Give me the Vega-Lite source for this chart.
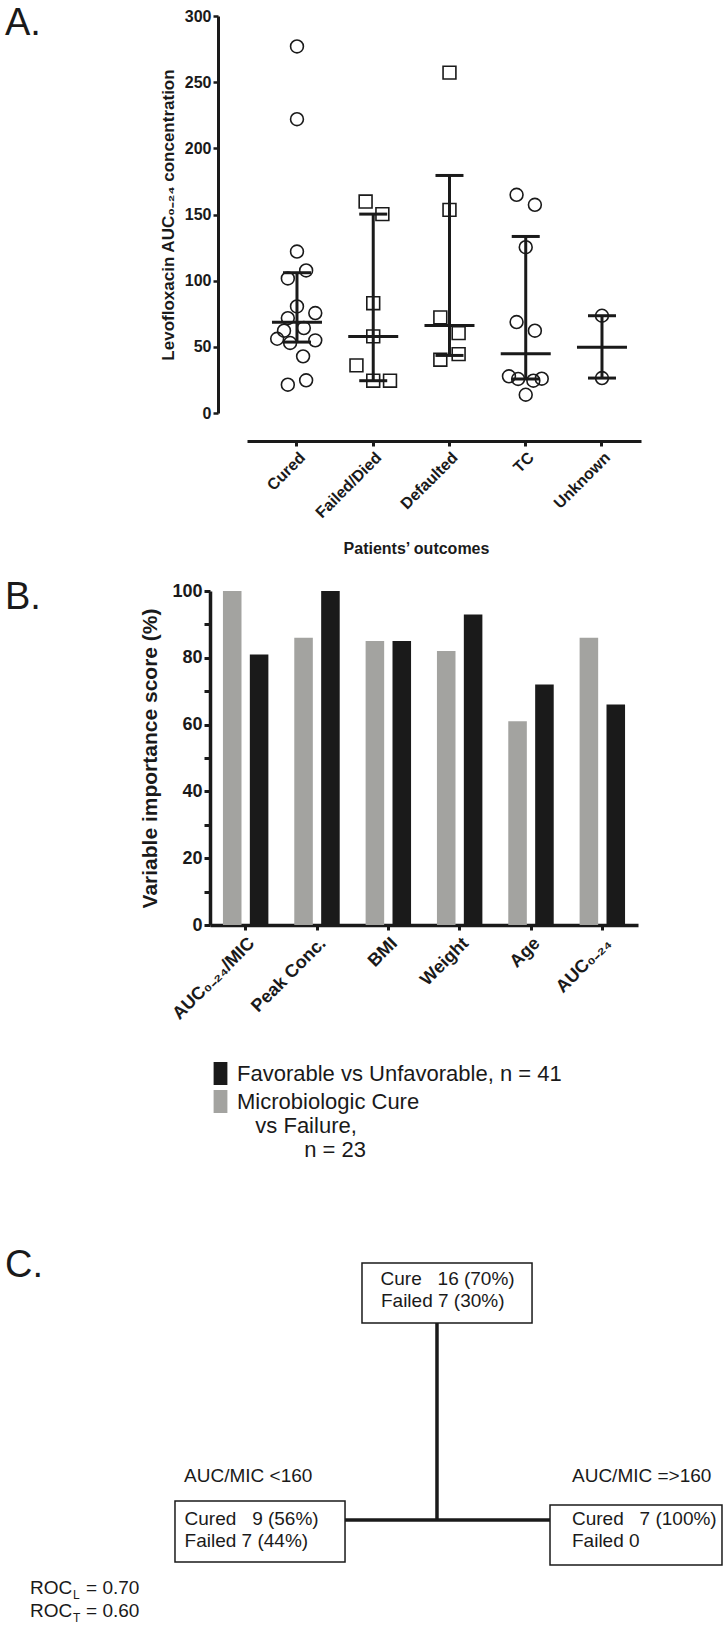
{
  "$schema": "https://vega.github.io/schema/vega-lite/v6.json",
  "background": "white",
  "padding": 5,
  "config": {
    "font": "Liberation Sans",
    "view": {"stroke": null},
    "axis": {"grid": false, "domainColor": "#1a1a1a", "tickColor": "#1a1a1a", "labelColor": "#1a1a1a", "titleColor": "#1a1a1a"},
    "title": {"fontWeight": "normal", "fontSize": 38, "anchor": "start", "frame": "group", "offset": 0, "color": "#1a1a1a"}
  },
  "spacing": 22,
  "resolve": {"scale": {"color": "independent"}, "legend": {"color": "independent"}},
  "vconcat": [
    {
      "width": 431,
      "height": 397,
      "title": {"text": "A.", "dx": -205, "dy": 39},
      "layer": [
        {
          "data": {"values": [
            {"outcome": "Cured", "value": 277, "jit": 0},
            {"outcome": "Cured", "value": 222, "jit": 0},
            {"outcome": "Cured", "value": 122, "jit": 0},
            {"outcome": "Cured", "value": 107.7, "jit": 0.12},
            {"outcome": "Cured", "value": 101.7, "jit": -0.12},
            {"outcome": "Cured", "value": 80.5, "jit": 0},
            {"outcome": "Cured", "value": 75.5, "jit": 0.24},
            {"outcome": "Cured", "value": 71.7, "jit": -0.12},
            {"outcome": "Cured", "value": 64.2, "jit": 0.09},
            {"outcome": "Cured", "value": 62.2, "jit": -0.17},
            {"outcome": "Cured", "value": 56.1, "jit": -0.26},
            {"outcome": "Cured", "value": 52.9, "jit": -0.09},
            {"outcome": "Cured", "value": 54.9, "jit": 0.24},
            {"outcome": "Cured", "value": 42.8, "jit": 0.08},
            {"outcome": "Cured", "value": 21.4, "jit": -0.12},
            {"outcome": "Cured", "value": 24.7, "jit": 0.12},
            {"outcome": "Failed/Died", "value": 159.8, "jit": -0.1},
            {"outcome": "Failed/Died", "value": 150.3, "jit": 0.12},
            {"outcome": "Failed/Died", "value": 83, "jit": 0},
            {"outcome": "Failed/Died", "value": 57.9, "jit": 0},
            {"outcome": "Failed/Died", "value": 36, "jit": -0.22},
            {"outcome": "Failed/Died", "value": 24.4, "jit": 0},
            {"outcome": "Failed/Died", "value": 24.4, "jit": 0.22},
            {"outcome": "Defaulted", "value": 257.2, "jit": 0},
            {"outcome": "Defaulted", "value": 153.5, "jit": 0},
            {"outcome": "Defaulted", "value": 72.2, "jit": -0.12},
            {"outcome": "Defaulted", "value": 60.4, "jit": 0.12},
            {"outcome": "Defaulted", "value": 44.5, "jit": 0.12},
            {"outcome": "Defaulted", "value": 40.3, "jit": -0.12},
            {"outcome": "TC", "value": 164.9, "jit": -0.12},
            {"outcome": "TC", "value": 157.3, "jit": 0.12},
            {"outcome": "TC", "value": 125.3, "jit": 0},
            {"outcome": "TC", "value": 68.7, "jit": -0.12},
            {"outcome": "TC", "value": 62.2, "jit": 0.12},
            {"outcome": "TC", "value": 27.7, "jit": -0.22},
            {"outcome": "TC", "value": 25.7, "jit": -0.1},
            {"outcome": "TC", "value": 24.4, "jit": 0.1},
            {"outcome": "TC", "value": 25.9, "jit": 0.21},
            {"outcome": "TC", "value": 13.8, "jit": 0},
            {"outcome": "Unknown", "value": 73.5, "jit": 0},
            {"outcome": "Unknown", "value": 26.4, "jit": 0}
          ]},
          "mark": {"type": "point", "filled": false, "strokeWidth": 1.6, "color": "#1a1a1a", "size": 165, "opacity": 1},
          "encoding": {
            "x": {
              "field": "outcome", "type": "nominal",
              "scale": {"domain": ["Cured", "Failed/Died", "Defaulted", "TC", "Unknown"], "range": [37, 431], "paddingInner": 0, "paddingOuter": 0.0836, "align": 0.93},
              "axis": {"title": "Patients’ outcomes", "offset": 28, "labelAngle": -45, "labelFontSize": 16, "labelFontWeight": "bold", "domainWidth": 3, "tickWidth": 3, "tickSize": 5, "labelPadding": 3, "titleFontSize": 16, "titleFontWeight": "bold", "titlePadding": 20, "titleX": 206}
            },
            "xOffset": {"field": "jit", "type": "quantitative", "scale": {"domain": [-0.5, 0.5]}},
            "y": {
              "field": "value", "type": "quantitative",
              "scale": {"domain": [0, 300], "nice": false},
              "axis": {"title": "Levofloxacin AUC₀₋₂₄ concentration", "values": [0, 25, 50, 75, 100, 125, 150, 175, 200, 225, 250, 275, 300], "labelExpr": "datum.value % 50 === 0 ? datum.label : ''", "offset": -8, "domainWidth": 3, "tickWidth": 2.5, "tickSize": 5, "labelFontSize": 16, "labelFontWeight": "bold", "labelPadding": 2, "labelOverlap": false, "labelFlush": false, "titleFontSize": 17, "titleFontWeight": "bold", "titlePadding": 7}
            },
            "shape": {"field": "outcome", "type": "nominal", "scale": {"domain": ["Cured", "Failed/Died", "Defaulted", "TC", "Unknown"], "range": ["circle", "square", "square", "circle", "circle"]}, "legend": null}
          }
        },
        {
          "data": {"values": [
            {"outcome": "Cured", "median": 68.5, "q1": 53.6, "q3": 106},
            {"outcome": "Failed/Died", "median": 57.9, "q1": 24.4, "q3": 150.3},
            {"outcome": "Defaulted", "median": 66.2, "q1": 43.5, "q3": 179.5},
            {"outcome": "TC", "median": 44.8, "q1": 25.7, "q3": 133.4},
            {"outcome": "Unknown", "median": 49.6, "q1": 26.4, "q3": 73.5}
          ]},
          "layer": [
            {"mark": {"type": "rule", "strokeWidth": 3, "color": "#1a1a1a", "opacity": 1},
             "encoding": {"x": {"field": "outcome", "type": "nominal"}, "y": {"field": "q1", "type": "quantitative"}, "y2": {"field": "q3"}}},
            {"mark": {"type": "tick", "size": 50, "thickness": 3, "color": "#1a1a1a", "opacity": 1, "orient": "horizontal"},
             "encoding": {"x": {"field": "outcome", "type": "nominal"}, "y": {"field": "median", "type": "quantitative"}}},
            {"mark": {"type": "tick", "size": 28, "thickness": 3, "color": "#1a1a1a", "opacity": 1, "orient": "horizontal"},
             "encoding": {"x": {"field": "outcome", "type": "nominal"}, "y": {"field": "q1", "type": "quantitative"}}},
            {"mark": {"type": "tick", "size": 28, "thickness": 3, "color": "#1a1a1a", "opacity": 1, "orient": "horizontal"},
             "encoding": {"x": {"field": "outcome", "type": "nominal"}, "y": {"field": "q3", "type": "quantitative"}}}
          ]
        }
      ]
    },
    {
      "width": 428,
      "height": 334,
      "title": {"text": "B.", "dx": -205, "dy": 39},
      "data": {"values": [
        {"variable": "AUC₀₋₂₄/MIC", "series": "Microbiologic Cure vs Failure, n = 23", "score": 100},
        {"variable": "AUC₀₋₂₄/MIC", "series": "Favorable vs Unfavorable, n = 41", "score": 81},
        {"variable": "Peak Conc.", "series": "Microbiologic Cure vs Failure, n = 23", "score": 86},
        {"variable": "Peak Conc.", "series": "Favorable vs Unfavorable, n = 41", "score": 100},
        {"variable": "BMI", "series": "Microbiologic Cure vs Failure, n = 23", "score": 85},
        {"variable": "BMI", "series": "Favorable vs Unfavorable, n = 41", "score": 85},
        {"variable": "Weight", "series": "Microbiologic Cure vs Failure, n = 23", "score": 82},
        {"variable": "Weight", "series": "Favorable vs Unfavorable, n = 41", "score": 93},
        {"variable": "Age", "series": "Microbiologic Cure vs Failure, n = 23", "score": 61},
        {"variable": "Age", "series": "Favorable vs Unfavorable, n = 41", "score": 72},
        {"variable": "AUC₀₋₂₄", "series": "Microbiologic Cure vs Failure, n = 23", "score": 86},
        {"variable": "AUC₀₋₂₄", "series": "Favorable vs Unfavorable, n = 41", "score": 66}
      ]},
      "mark": {"type": "bar"},
      "encoding": {
        "x": {
          "field": "variable", "type": "nominal", "sort": null,
          "scale": {"paddingInner": 0.363, "paddingOuter": 0.1815},
          "axis": {"title": null, "labelAngle": -45, "labelFontSize": 18, "labelFontWeight": "bold", "domainWidth": 3.5, "tickWidth": 3, "tickSize": 5, "labelPadding": 4}
        },
        "xOffset": {"field": "series", "type": "nominal", "scale": {"domain": ["Microbiologic Cure vs Failure, n = 23", "Favorable vs Unfavorable, n = 41"], "paddingInner": 0.31, "paddingOuter": 0}},
        "y": {
          "field": "score", "type": "quantitative",
          "scale": {"domain": [0, 100], "nice": false},
          "axis": {"title": "Variable importance score (%)", "values": [0, 10, 20, 30, 40, 50, 60, 70, 80, 90, 100], "labelExpr": "datum.value % 20 === 0 ? datum.label : ''", "domainWidth": 3.5, "tickWidth": 3, "tickSize": 6, "labelFontSize": 18, "labelFontWeight": "bold", "labelPadding": 2, "labelOverlap": false, "labelFlush": false, "titleFontSize": 21, "titleFontWeight": "bold", "titlePadding": 11}
        },
        "color": {
          "field": "series", "type": "nominal",
          "scale": {"domain": ["Favorable vs Unfavorable, n = 41", "Microbiologic Cure vs Failure, n = 23"], "range": ["#1a1a1a", "#a3a3a0"]},
          "legend": {"orient": "none", "legendX": -1, "legendY": 471, "title": null, "padding": 0, "symbolType": "M-0.6,-1H0.6V1H-0.6Z", "symbolSize": 529, "symbolStrokeWidth": 0, "labelFontSize": 22, "labelColor": "#1a1a1a", "labelOffset": 5, "rowPadding": 5, "labelLimit": 0,
            "labelExpr": "datum.label == 'Microbiologic Cure vs Failure, n = 23' ? ['Microbiologic Cure', '\u200b\u00a0\u00a0\u00a0vs Failure,', '\u200b\u00a0\u00a0\u00a0\u00a0\u00a0\u00a0\u00a0\u00a0\u00a0\u00a0\u00a0n = 23'] : datum.label"}
        }
      }
    },
    {
      "width": 514,
      "height": 443,
      "title": {"text": "C.", "dx": -205, "dy": 106},
      "layer": [
        {
          "data": {"values": [
            {"x1": 60.08, "x2": 60.08, "y1": 31.6, "y2": 76.07},
            {"x1": 47.29, "x2": 75.8, "y1": 76.07, "y2": 76.07}
          ]},
          "mark": {"type": "rule", "strokeWidth": 3.5, "color": "#1a1a1a"},
          "encoding": {
            "x": {"field": "x1", "type": "quantitative", "scale": {"domain": [28.51, 100], "nice": false, "zero": false}, "axis": null},
            "x2": {"field": "x2"},
            "y": {"field": "y1", "type": "quantitative", "scale": {"domain": [0, 100], "nice": false, "reverse": true}, "axis": null},
            "y2": {"field": "y2"}
          }
        },
        {
          "data": {"values": [
            {"node": "root", "x1": 49.65, "x2": 73.3, "y1": 18.06, "y2": 31.6},
            {"node": "AUC/MIC <160", "x1": 23.64, "x2": 47.29, "y1": 71.78, "y2": 85.55},
            {"node": "AUC/MIC =>160", "x1": 75.8, "x2": 99.72, "y1": 72.69, "y2": 86.23}
          ]},
          "mark": {"type": "rect", "fill": "white", "stroke": "#1a1a1a", "strokeWidth": 1.5},
          "encoding": {
            "x": {"field": "x1", "type": "quantitative", "scale": {"domain": [28.51, 100], "nice": false, "zero": false}, "axis": null},
            "x2": {"field": "x2"},
            "y": {"field": "y1", "type": "quantitative", "scale": {"domain": [0, 100], "nice": false, "reverse": true}, "axis": null},
            "y2": {"field": "y2"}
          }
        },
        {
          "data": {"values": [
            {"label": "Cure\u00a0\u00a0\u00a016 (70%)", "x": 52.23, "y": 21.67},
            {"label": "Failed 7 (30%)", "x": 52.29, "y": 26.64},
            {"label": "AUC/MIC <160", "x": 24.9, "y": 66.14},
            {"label": "AUC/MIC =>160", "x": 78.86, "y": 66.14},
            {"label": "Cured\u00a0\u00a0\u00a09 (56%)", "x": 24.97, "y": 75.85},
            {"label": "Failed 7 (44%)", "x": 24.97, "y": 80.81},
            {"label": "Cured\u00a0\u00a0\u00a07 (100%)", "x": 78.86, "y": 75.85},
            {"label": "Failed 0", "x": 78.86, "y": 80.81},
            {"label": "ROC", "x": 3.48, "y": 91.42},
            {"label": "= 0.70", "x": 11.27, "y": 91.42},
            {"label": "ROC", "x": 3.48, "y": 96.61},
            {"label": "= 0.60", "x": 11.27, "y": 96.61}
          ]},
          "mark": {"type": "text", "align": "left", "baseline": "middle", "fontSize": 19, "color": "#1a1a1a"},
          "encoding": {
            "x": {"field": "x", "type": "quantitative", "scale": {"domain": [28.51, 100], "nice": false, "zero": false}, "axis": null},
            "y": {"field": "y", "type": "quantitative", "scale": {"domain": [0, 100], "nice": false, "reverse": true}, "axis": null},
            "text": {"field": "label"}
          }
        },
        {
          "data": {"values": [
            {"label": "L", "x": 9.46, "y": 93.0},
            {"label": "T", "x": 9.46, "y": 98.19}
          ]},
          "mark": {"type": "text", "align": "left", "baseline": "middle", "fontSize": 12, "color": "#1a1a1a"},
          "encoding": {
            "x": {"field": "x", "type": "quantitative", "scale": {"domain": [28.51, 100], "nice": false, "zero": false}, "axis": null},
            "y": {"field": "y", "type": "quantitative", "scale": {"domain": [0, 100], "nice": false, "reverse": true}, "axis": null},
            "text": {"field": "label"}
          }
        }
      ]
    }
  ]
}
